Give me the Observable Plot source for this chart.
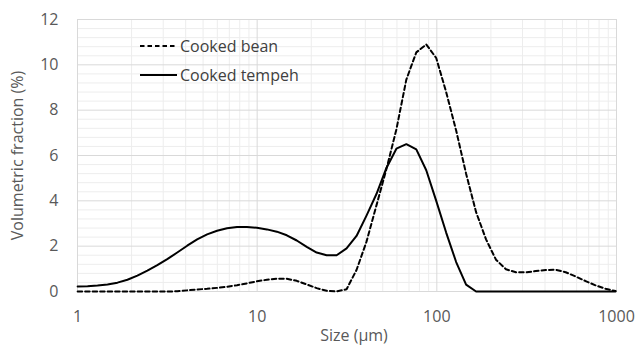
<!DOCTYPE html>
<html><head><meta charset="utf-8">
<script src="https://cdn.jsdelivr.net/npm/d3@7"></script>
<script src="https://cdn.jsdelivr.net/npm/@observablehq/plot@0.6"></script>
<style>
body{margin:0;background:#fff;}
#wrap{position:relative;width:636px;height:346px;font-family:"Open Sans",sans-serif;}
#legend{position:absolute;left:0;top:0;pointer-events:none;}
</style></head><body>
<div id="wrap"><div id="chart"></div><svg id="legend" width="636" height="346"></svg></div>
<script>
// Size classes (µm)
const sizes = [1.002,1.138,1.293,1.469,1.669,1.896,2.154,2.448,2.781,3.159,3.591,4.079,4.634,5.265,5.982,6.796,7.722,8.773,9.968,11.33,12.87,14.62,16.61,18.87,21.44,24.36,27.68,31.45,35.73,40.60,46.13,52.41,59.55,67.65,76.87,87.33,99.23,112.7,128.1,145.5,165.4,187.9,213.5,242.5,275.6,313.1,355.7,404.2,459.2,521.7,592.7,673.4,765.1,869.3,987.7];
const bean = [0,0,0,0,0,0,0,0,0,0,0.01,0.05,0.09,0.12,0.16,0.21,0.28,0.36,0.45,0.52,0.57,0.56,0.47,0.31,0.15,0.03,0,0.1,0.95,2.2,3.8,5.4,7.15,9.35,10.55,10.9,10.3,8.8,7.1,5.2,3.5,2.3,1.4,0.98,0.85,0.85,0.9,0.95,0.96,0.85,0.66,0.46,0.27,0.12,0.02];
const tempeh = [0.22,0.23,0.26,0.31,0.39,0.52,0.7,0.92,1.16,1.43,1.72,2.02,2.3,2.52,2.68,2.79,2.85,2.85,2.81,2.74,2.64,2.48,2.25,1.97,1.72,1.6,1.6,1.9,2.45,3.35,4.3,5.45,6.3,6.5,6.27,5.35,4.0,2.6,1.3,0.3,0,0,0,0,0,0,0,0,0,0,0,0,0,0,0];
const seriesNames = ["Cooked bean","Cooked tempeh"];
const xTicks = [1,10,100,1000];
const yTicks = [0,2,4,6,8,10,12];
const xMinor = [2,3,4,5,6,7,8,9,20,30,40,50,60,70,80,90,200,300,400,500,600,700,800,900];
const yMinor = [0.4,0.8,1.2,1.6,2.4,2.8,3.2,3.6,4.4,4.8,5.2,5.6,6.4,6.8,7.2,7.6,8.4,8.8,9.2,9.6,10.4,10.8,11.2,11.6];
const xLabel = "Size (µm)";
const yLabel = "Volumetric fraction (%)";

const beanData = sizes.map((s,i)=>({size:s, v:bean[i]}));
const tempehData = sizes.map((s,i)=>({size:s, v:tempeh[i]}));

const chart = Plot.plot({
  width:636, height:346,
  marginLeft:77, marginRight:20, marginTop:19, marginBottom:55,
  style:{fontFamily:'"Open Sans", sans-serif', fontSize:"16px", color:"#595959", background:"#fff", overflow:"visible"},
  x:{type:"log", domain:[1,1000], ticks:xTicks, tickSize:0, tickPadding:19, tickFormat:d=>String(d), label:null},
  y:{domain:[0,12], ticks:yTicks, tickSize:0, tickPadding:19, label:null},
  marks:[
    Plot.ruleX(xMinor,{stroke:"#ededed", strokeWidth:1}),
    Plot.ruleY(yMinor,{stroke:"#ededed", strokeWidth:1}),
    Plot.ruleX(xTicks,{stroke:"#d9d9d9", strokeWidth:1}),
    Plot.ruleY(yTicks,{stroke:"#d9d9d9", strokeWidth:1}),
    Plot.frame({stroke:"#d9d9d9"}),
    Plot.line(beanData,{x:"size", y:"v", stroke:"#000", strokeWidth:2, strokeDasharray:"4.5,3"}),
    Plot.line(tempehData,{x:"size", y:"v", stroke:"#000", strokeWidth:2}),
    Plot.text([xLabel],{frameAnchor:"bottom", lineAnchor:"middle", textAnchor:"middle", dy:44, dx:7, fill:"#595959", fontSize:16}),
    Plot.text([yLabel],{frameAnchor:"left", textAnchor:"middle", lineAnchor:"middle", dx:-60, rotate:-90, fill:"#595959", fontSize:16})
  ]
});
document.getElementById("chart").appendChild(chart);

// Legend
const lg = d3.select("#legend");
const items = [{name:seriesNames[0], dash:"4.5,3", y:46},{name:seriesNames[1], dash:null, y:75}];
items.forEach(it=>{
  lg.append("line").attr("x1",140).attr("x2",177).attr("y1",it.y).attr("y2",it.y)
    .attr("stroke","#000").attr("stroke-width",2).attr("stroke-dasharray",it.dash);
  lg.append("text").attr("x",180).attr("y",it.y).attr("dy","0.35em")
    .attr("fill","#404040").style("font-family",'"Open Sans", sans-serif').style("font-size","16px").text(it.name);
});
</script>
</body></html>
